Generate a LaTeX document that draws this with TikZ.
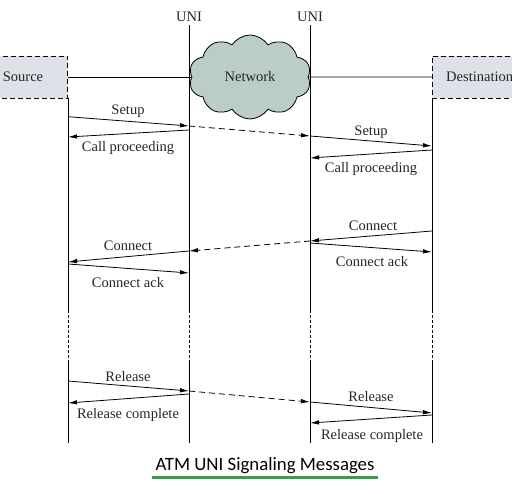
\documentclass[tikz,border=0pt]{standalone}
\usepackage{fontspec}
\setmainfont{Liberation Serif}
\newfontfamily\titlefont{Carlito}
\usetikzlibrary{arrows.meta,shapes.symbols}
\definecolor{boxfill}{RGB}{222,225,231}
\definecolor{cloudfill}{RGB}{186,205,200}
\definecolor{ulgreen}{RGB}{58,155,85}
\begin{document}
\begin{tikzpicture}[x=1pt,y=-1pt,
  txt/.style={font=\fontsize{14.5}{16}\selectfont, inner sep=0pt, text=black!85},
  lbl/.style={txt, yshift=-1.5pt},
  msg/.style={line width=0.8pt, -{Latex[length=9pt,width=4.5pt]}},
  dmsg/.style={msg, dash pattern=on 6pt off 4pt},
  life/.style={line width=0.9pt},
  dlife/.style={line width=0.8pt, dash pattern=on 3pt off 2pt},
  endbox/.style={draw, line width=0.8pt, dash pattern=on 5pt off 3pt, fill=boxfill, minimum height=42pt, inner sep=0pt}]
\useasboundingbox (0,0) rectangle (512,494);

% lifeline coordinates
\coordinate (sTop) at (68,98);   \coordinate (sA) at (68,310); \coordinate (sB) at (68,363); \coordinate (sEnd) at (68,443);
\coordinate (uTop) at (189,25);  \coordinate (uA) at (189,310); \coordinate (uB) at (189,363); \coordinate (uEnd) at (189,443);
\coordinate (vTop) at (310,25);  \coordinate (vA) at (310,310); \coordinate (vB) at (310,363); \coordinate (vEnd) at (310,443);
\coordinate (dTop) at (432,98);  \coordinate (dA) at (432,310); \coordinate (dB) at (432,363); \coordinate (dEnd) at (432,443);

\foreach \p in {s,u,v,d}{
  \draw[life] (\p Top) -- (\p A);
  \draw[dlife] (\p A) -- (\p B);
  \draw[life] (\p B) -- (\p End);
}

% end boxes
\node (src) [endbox, minimum width=82pt, anchor=east] at (68,77) {};
\node (srct) [txt] at (23,77) {Source};
\node (dst) [endbox, minimum width=90pt, anchor=west] at (432,77) {};
\node (dstt) [txt, anchor=west] at (446,77) {Destination};

% network cloud
\node (net) [cloud, draw, line width=0.8pt, fill=cloudfill, cloud puffs=10, cloud puff arc=115, aspect=1.45,
  minimum width=122pt, minimum height=84pt, inner sep=0pt, txt] at (250,77) {Network};
\draw[line width=0.8pt] (src.east) -- (net.west);
\draw[line width=0.8pt] (net.east) -- (dst.west);

\node (uni1) [txt] at (189,17) {UNI};
\node (uni2) [txt] at (310,17) {UNI};

% message endpoints
\coordinate (m1a) at (68,116.7); \coordinate (m1b) at (189,126);
\coordinate (m2a) at (189,130);  \coordinate (m2b) at (68,137);
\coordinate (m3b) at (310,136);  \coordinate (m4b) at (432,146);
\coordinate (m5a) at (432,150);  \coordinate (m5b) at (310,158);
\coordinate (c1a) at (432,231);  \coordinate (c1b) at (310,241);
\coordinate (c2a) at (310,243);  \coordinate (c2b) at (432,252);
\coordinate (c3b) at (189,251);  \coordinate (c4b) at (68,262);
\coordinate (c5a) at (68,264);   \coordinate (c5b) at (189,273);
\coordinate (r1a) at (68,381);   \coordinate (r1b) at (189,391);
\coordinate (r2a) at (189,394);  \coordinate (r2b) at (68,403);
\coordinate (r3b) at (310,402);  \coordinate (r4b) at (432,413);
\coordinate (r5a) at (432,415);  \coordinate (r5b) at (310,423);

\draw[msg] (m1a) -- (m1b);
\draw[msg] (m2a) -- (m2b);
\draw[dmsg] (m1b) -- (m3b);
\draw[msg] (m3b) -- (m4b);
\draw[msg] (m5a) -- (m5b);

\draw[msg] (c1a) -- (c1b);
\draw[msg] (c2a) -- (c2b);
\draw[dmsg] (c1b) -- (c3b);
\draw[msg] (c3b) -- (c4b);
\draw[msg] (c5a) -- (c5b);

\draw[msg] (r1a) -- (r1b);
\draw[msg] (r2a) -- (r2b);
\draw[dmsg] (r1b) -- (r3b);
\draw[msg] (r3b) -- (r4b);
\draw[msg] (r5a) -- (r5b);

% labels
\node (l1) [lbl] at (128,110) {Setup};
\node (l2) [lbl] at (128,147) {Call proceeding};
\node (l3) [lbl] at (371,131) {Setup};
\node (l4) [lbl] at (371,168) {Call proceeding};
\node (l5) [lbl] at (373,224) {Connect};
\node (l6) [lbl] at (372,260) {Connect ack};
\node (l7) [lbl] at (128,244) {Connect};
\node (l8) [lbl] at (128,281) {Connect ack};
\node (l9) [lbl] at (128,375) {Release};
\node (l10) [lbl] at (128,414) {Release complete};
\node (l11) [lbl] at (371,395) {Release};
\node (l12) [lbl] at (372,435) {Release complete};

% title
\node (title) [inner sep=0pt, font=\titlefont\fontsize{18.8}{22}\selectfont] at (265,466) {ATM UNI Signaling Messages};
\coordinate (ulA) at (152,478); \coordinate (ulB) at (378,478);
\draw[ulgreen, line width=3pt] (ulA) -- (ulB);
\end{tikzpicture}
\end{document}
